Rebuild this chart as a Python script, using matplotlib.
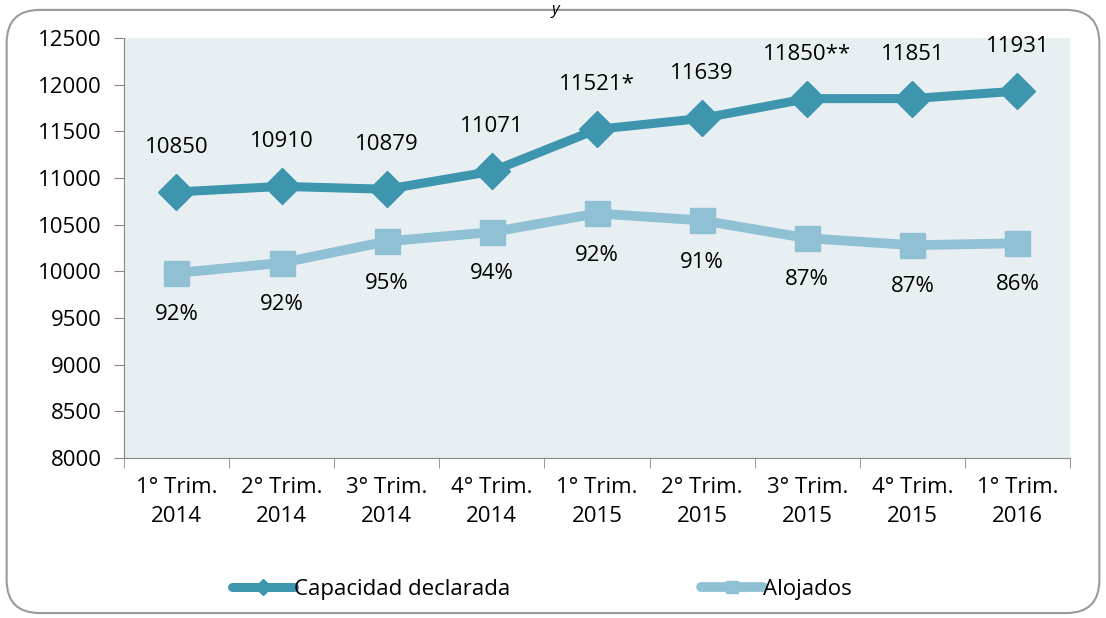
import matplotlib.pyplot as plt
from matplotlib.patches import FancyBboxPatch
import numpy as np

plt.rcParams['font.family'] = ['Open Sans', 'DejaVu Sans']

trimestres = ['1° Trim.\n2014', '2° Trim.\n2014', '3° Trim.\n2014', '4° Trim.\n2014',
              '1° Trim.\n2015', '2° Trim.\n2015', '3° Trim.\n2015', '4° Trim.\n2015',
              '1° Trim.\n2016']
capacidad = [10850, 10910, 10879, 11071, 11521, 11639, 11850, 11851, 11931]
capacidad_txt = ['10850', '10910', '10879', '11071', '11521*', '11639', '11850**', '11851', '11931']
alojados = [9982, 10090, 10320, 10420, 10620, 10545, 10355, 10280, 10300]
ocupacion = ['92%', '92%', '95%', '94%', '92%', '91%', '87%', '87%', '86%']

c_cap = '#3E95AE'
c_alo = '#8FC0D3'

fig = plt.figure(figsize=(11.06, 6.18), dpi=100)
ax = fig.add_axes([0.112, 0.259, 0.8555, 0.6795])
ax.set_facecolor('#E8EFF3')

x = np.arange(len(trimestres))
ax.plot(x, capacidad, color=c_cap, lw=6.5, marker='D', ms=18, solid_capstyle='round',
        label='Capacidad declarada', zorder=3)
ax.plot(x, alojados, color=c_alo, lw=7, marker='s', ms=18, solid_capstyle='round',
        label='Alojados', zorder=3)

for i in x:
    ax.annotate(capacidad_txt[i], (i, capacidad[i]), xytext=(0, 32), textcoords='offset points',
                ha='center', va='center', fontsize=16)
    ax.annotate(ocupacion[i], (i, alojados[i]), xytext=(0, -30), textcoords='offset points',
                ha='center', va='center', fontsize=16)

ax.set_xlim(-0.5, len(x) - 0.5)
ax.set_ylim(8000, 12500)
ax.set_yticks(np.arange(8000, 12501, 500))
ax.set_xticks(x)
ax.set_xticklabels(trimestres, fontsize=16, linespacing=1.45)
ax.set_xticks(np.arange(-0.5, len(x), 1), minor=True)
ax.tick_params(axis='x', which='major', length=0, pad=14)
ax.tick_params(axis='x', which='minor', length=7, color='#888888', direction='out')
ax.tick_params(axis='y', labelsize=16, length=7, color='#888888', direction='out', pad=9)
for s in ['top', 'right']:
    ax.spines[s].set_visible(False)
for s in ['left', 'bottom']:
    ax.spines[s].set_color('#888888')

leg = fig.legend(loc='center', bbox_to_anchor=(0.49, 0.046), ncol=2, frameon=False,
                 fontsize=16, handlelength=2.8, handletextpad=0.0, columnspacing=8.6,
                 markerscale=0.45)

border = FancyBboxPatch((0.006, 0.008), 0.988, 0.976, boxstyle='round,pad=0,rounding_size=0.03',
                        transform=fig.transFigure, fill=False, ec='#9A9A9A', lw=1.5,
                        mutation_aspect=1106 / 618)
fig.add_artist(border)
fig.text(0.502, 0.997, 'y', fontsize=12, style='italic', ha='center', va='top')

fig.savefig('out.png', dpi=100)
